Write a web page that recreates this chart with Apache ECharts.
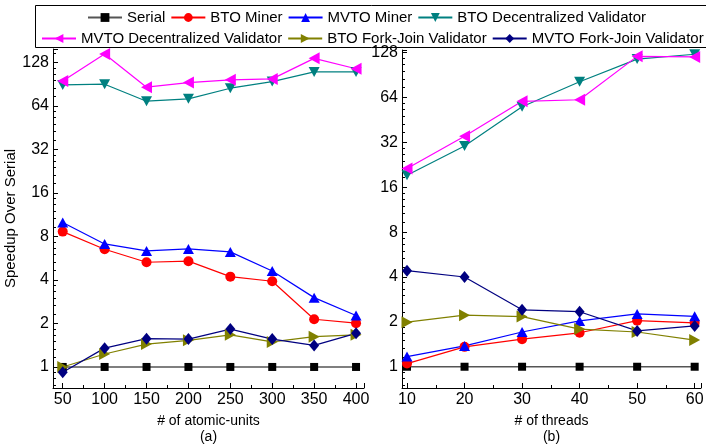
<!DOCTYPE html>
<html>
<head>
<meta charset="utf-8">
<script src="https://cdn.jsdelivr.net/npm/echarts@6/dist/echarts.min.js"></script>
<style>html,body{margin:0;padding:0;background:#fff}#c{width:706px;height:444px}</style>
</head>
<body>
<div id="c"></div>
<script>
const xAtomic = [50, 100, 150, 200, 250, 300, 350, 400];
const xThreads = [10, 20, 30, 40, 50, 60];
const seriesNames = ['Serial', 'BTO Miner', 'MVTO Miner', 'BTO Decentralized Validator',
  'MVTO Decentralized Validator', 'BTO Fork-Join Validator', 'MVTO Fork-Join Validator'];

// panel (a): speedup vs # of atomic-units
const serialA   = [1, 1, 1, 1, 1, 1, 1, 1];
const btoMinerA = [8.65, 6.53, 5.31, 5.40, 4.22, 3.92, 2.14, 2.01];
const mvtoMinerA= [9.99, 7.11, 6.36, 6.56, 6.26, 4.62, 3.02, 2.27];
const btoDecA   = [89.7, 90.7, 69.2, 71.8, 85.1, 94.6, 110.4, 110.4];
const mvtoDecA  = [95.6, 147, 86.5, 93.1, 97.2, 98.7, 137, 116];
const btoFJA    = [1.0, 1.23, 1.44, 1.53, 1.67, 1.49, 1.62, 1.67];
const mvtoFJA   = [0.92, 1.35, 1.57, 1.56, 1.83, 1.56, 1.41, 1.71];

// panel (b): speedup vs # of threads
const serialB   = [1, 1, 1, 1, 1, 1];
const btoMinerB = [1.05, 1.36, 1.53, 1.69, 2.04, 1.97];
const mvtoMinerB= [1.17, 1.38, 1.71, 2.03, 2.26, 2.18];
const btoDecB   = [19.3, 30.3, 55.6, 81.8, 116, 125];
const mvtoDecB  = [21.4, 35.2, 60.4, 61.9, 121, 120];
const btoFJB    = [1.99, 2.22, 2.17, 1.79, 1.71, 1.51];
const mvtoFJB   = [4.41, 4.0, 2.41, 2.34, 1.74, 1.88];

const styles = [
  {line: '#555555', item: '#000000', symbol: 'rect', size: 8, rotate: 0},
  {line: '#ff0000', item: '#ff0000', symbol: 'circle', size: 10, rotate: 0},
  {line: '#0000ff', item: '#0000ff', symbol: 'triangle', size: [11, 10], rotate: 0},
  {line: '#008080', item: '#008080', symbol: 'triangle', size: [11, 10], rotate: 180},
  {line: '#ff00ff', item: '#ff00ff', symbol: 'triangle', size: [12, 11], rotate: 90},
  {line: '#808000', item: '#808000', symbol: 'triangle', size: [12, 11], rotate: -90},
  {line: '#000080', item: '#000080', symbol: 'diamond', size: [10, 12], rotate: 0}
];

const dataA = [serialA, btoMinerA, mvtoMinerA, btoDecA, mvtoDecA, btoFJA, mvtoFJA];
const dataB = [serialB, btoMinerB, mvtoMinerB, btoDecB, mvtoDecB, btoFJB, mvtoFJB];

const FONT = '"Liberation Sans", Arial, sans-serif';

function mk(idx, xs, ys, gi) {
  const s = styles[idx];
  return {
    name: seriesNames[idx], type: 'line', xAxisIndex: gi, yAxisIndex: gi,
    data: xs.map((x, i) => [x, ys[i]]),
    symbol: s.symbol, symbolSize: s.size, symbolRotate: s.rotate, showAllSymbol: true,
    lineStyle: {color: s.line, width: idx === 0 ? 1.6 : 1.2},
    itemStyle: {color: s.item},
    emphasis: {disabled: true}, animation: false, clip: false
  };
}

const series = [];
for (let i = 0; i < 7; i++) series.push(mk(i, xAtomic, dataA[i], 0));
for (let i = 0; i < 7; i++) series.push(mk(i, xThreads, dataB[i], 1));

function isPow2(v) { const l = Math.log2(v); return Math.abs(l - Math.round(l)) < 1e-6; }

function yAxis(gi, min, max) {
  return {
    type: 'log', logBase: 2, gridIndex: gi, min: min, max: max, splitNumber: 8,
    axisLine: {show: true, lineStyle: {color: '#000', width: 1}},
    axisTick: {show: true, inside: true, length: 5, lineStyle: {color: '#000'}},
    minorTick: {show: true, splitNumber: 6, length: 3, lineStyle: {color: '#000'}},
    splitLine: {show: false}, minorSplitLine: {show: false},
    axisLabel: {color: '#000', fontSize: 16, fontFamily: FONT, margin: 4,
      formatter: v => isPow2(v) ? String(Math.round(v)) : ''},
    name: gi === 0 ? 'Speedup Over Serial' : '', nameLocation: 'middle', nameGap: 34,
    nameTextStyle: {color: '#000', fontSize: 15, fontFamily: FONT}
  };
}

function xAxis(gi, min, max, step, name) {
  return {
    type: 'value', gridIndex: gi, min: min, max: max, splitNumber: 8,
    minInterval: step, maxInterval: step,
    axisLine: {show: true, onZero: false, lineStyle: {color: '#000', width: 1}},
    axisTick: {show: true, inside: true, length: 5, lineStyle: {color: '#000'}},
    minorTick: {show: true, splitNumber: 2, length: 3, lineStyle: {color: '#000'}},
    splitLine: {show: false},
    axisLabel: {color: '#000', fontSize: 16, fontFamily: FONT, margin: 4,
      formatter: v => (Math.abs(v / step - Math.round(v / step)) < 1e-6) ? String(Math.round(v)) : ''},
    name: name, nameLocation: 'middle', nameGap: 25,
    nameTextStyle: {color: '#000', fontSize: 14, fontFamily: FONT, lineHeight: 16}
  };
}

const legendCommon = {
  orient: 'horizontal', itemWidth: 34, itemHeight: 11, itemGap: 5, width: 690,
  textStyle: {color: '#000', fontSize: 15, fontFamily: FONT},
  selectedMode: false
};

const option = {
  backgroundColor: '#fff',
  animation: false,
  grid: [
    {left: 53, right: 342, top: 49, bottom: 56, containLabel: false, outerBoundsMode: 'none'},
    {left: 402, right: 5, top: 50, bottom: 56, containLabel: false, outerBoundsMode: 'none'}
  ],
  legend: [
    Object.assign({}, legendCommon, {left: 82, top: 5, data: seriesNames.slice(0, 4)}),
    Object.assign({}, legendCommon, {left: 36, top: 26, data: seriesNames.slice(4)})
  ],
  graphic: [{
    type: 'rect', left: 33, top: 3, z: 100, silent: true,
    shape: {x: 0, y: 0, width: 672, height: 42},
    style: {fill: 'none', stroke: '#000', lineWidth: 1}
  }],
  xAxis: [
    xAxis(0, 38.4, 409.5, 50, '# of atomic-units\n(a)'),
    xAxis(1, 9.13, 61.1, 10, '# of threads\n(b)')
  ],
  yAxis: [
    yAxis(0, 0.715, 159),
    yAxis(1, 0.72, 133.5)
  ],
  series: series
};

const chart = echarts.init(document.getElementById('c'), null, {renderer: 'canvas'});
chart.setOption(option);
</script>
</body>
</html>
